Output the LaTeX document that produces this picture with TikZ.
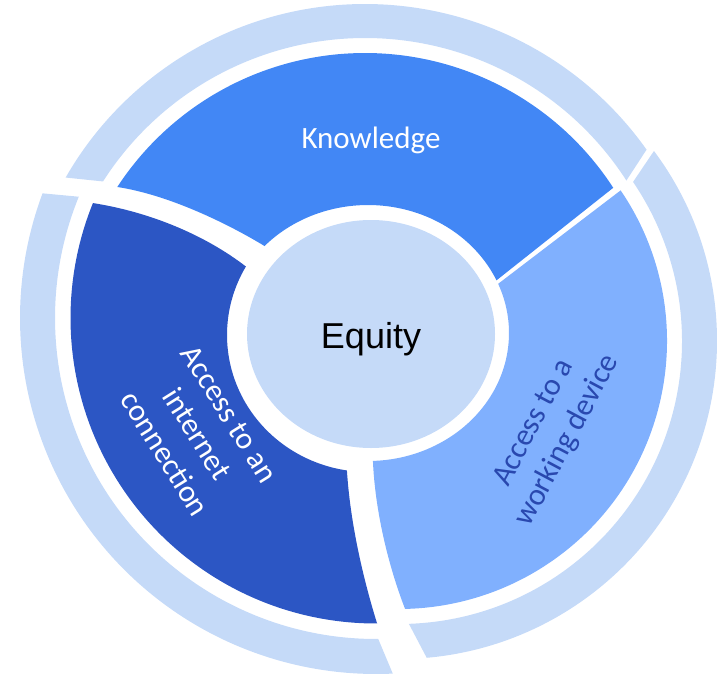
\documentclass[tikz,border=0pt]{standalone}
\usepackage{fontspec}
\usepackage{tikz}
\newfontfamily\carlito{Carlito}
\newfontfamily\arialish{Liberation Sans}
\definecolor{knowblue}{RGB}{66,135,245}
\definecolor{netblue}{RGB}{44,86,196}
\definecolor{deviceblue}{RGB}{128,176,254}
\definecolor{paleblue}{RGB}{197,218,248}
\definecolor{inkblue}{RGB}{41,72,175}
\tikzset{
    band/.style={fill=paleblue, draw=none},
    lbl/.style={font=\carlito\fontsize{31}{38}\selectfont, align=center}}

\begin{document}
\begin{tikzpicture}[x=1pt, y=1pt, yscale=-1]

            \useasboundingbox (0,0) rectangle (717,674);

            % pale outer bands
            \fill[band] (365,349) ++(209.8:345) arc[start angle=209.8, end angle=324.7, radius=345]
                -- ({365+311*cos(327.2)},{349+311*sin(327.2)}) arc[start angle=327.2, end angle=212.6, radius=311] -- cycle;
            \fill[band] (376,318) ++(200.5:356) arc[start angle=200.5, end angle=87.3, radius=356]
                -- ({376+321*cos(89.6)},{318+321*sin(89.6)}) arc[start angle=89.6, end angle=202.2, radius=321] -- cycle;
            \fill[band] (399,341) ++(-36.7:318) arc[start angle=-36.7, end angle=85, radius=318]
                -- ({399+283*cos(88)},{341+283*sin(88)}) arc[start angle=88, end angle=-34.2, radius=283] -- cycle;

            % the three pieces
            \fill[knowblue] (365,349) ++(213.2:296) arc[start angle=213.2, end angle=327, radius=296]
                -- ({368+141*cos(-24.3)},{333+128*sin(-24.3)})
                arc[start angle=-24.3, end angle=-137.2, x radius=141, y radius=128]
                .. controls (230,225) and (170,195) .. (117.3,187) -- cycle;
            \fill[deviceblue] (399,341) ++(-34.2:268) arc[start angle=-34.2, end angle=88.7, radius=268]
                .. controls (388,565) and (375,510) .. ({368+141*cos(88)},{333+128*sin(88)})
                arc[start angle=88, end angle=-22.6, x radius=141, y radius=128] -- cycle;
            \fill[netblue] (376,318) ++(89.8:305.5) arc[start angle=89.8, end angle=202.1, radius=305.5]
                .. controls (150,212) and (205,235) .. ({368+141*cos(210)},{335+137*sin(210)})
                arc[start angle=210, end angle=98.6, x radius=141, y radius=137]
                .. controls (350,520) and (362,575) .. (377.1,623.5) -- cycle;

            % centre
            \fill[paleblue] (371,334) ellipse[x radius=124, y radius=114];

            \node[font=\arialish\fontsize{36}{40}\selectfont, anchor=base] (equity) at (371,348) {Equity};
            \node[lbl, text=white] (knowledge) at (371,140) {Knowledge};
            \node[lbl, text=white, rotate=-58] (internet) at (197,434) {Access to an\\internet\\connection};
            \node[lbl, text=inkblue, rotate=62] (device) at (551,432) {Access to a\\working device};

        \end{tikzpicture}
\end{document}
